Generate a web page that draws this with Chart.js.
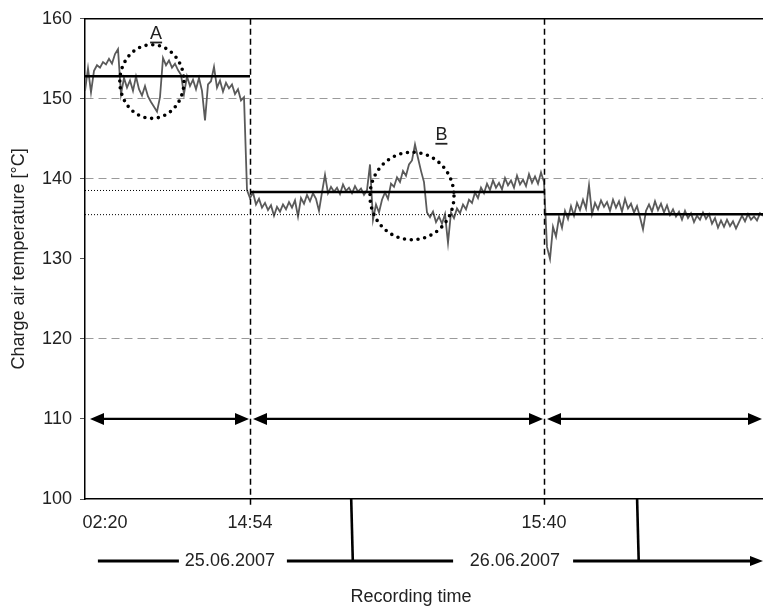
<!DOCTYPE html>
<html>
<head>
<meta charset="utf-8">
<script src="https://cdn.jsdelivr.net/npm/chart.js@4.4.1/dist/chart.umd.min.js"></script>
<style>
  html, body { margin: 0; padding: 0; background: #fff; }
  #wrap { width: 763px; height: 608px; }
</style>
</head>
<body>
<div id="wrap"><canvas id="chartTemp"></canvas></div>
<script>
// charge air temperature, one sample per step
const temperature = [
  151.0, 153.8, 150.8, 153.5, 154.2, 153.9, 154.6, 154.3, 155.0, 154.4,
  155.6, 156.2, 150.6, 152.6, 151.4, 152.3, 151.0, 152.8, 151.2, 150.4,
  151.6, 150.3, 149.6, 149.0, 148.4, 150.2, 155.1, 154.2, 154.8, 153.9,
  154.4, 153.6, 153.0, 150.6, 152.8, 151.6, 152.4, 151.2, 152.6, 151.0,
  147.3, 151.8, 152.2, 154.0, 151.4, 152.3, 150.9, 152.0, 151.3, 151.8,
  150.6, 151.2, 149.8, 150.2, 138.6, 137.6, 138.3, 136.8, 137.5, 136.4,
  137.0, 136.1, 136.7, 135.4, 136.5, 135.9, 136.8, 136.2, 137.1, 136.4,
  137.3, 135.3, 137.6, 136.9, 138.0, 137.2, 138.2, 137.5, 136.0, 138.3,
  140.5, 138.2, 139.0, 138.4, 138.9, 138.1, 139.3, 138.5, 138.9, 138.2,
  139.1, 138.4, 138.8, 138.0, 138.6, 141.8, 134.9, 136.8, 135.8, 137.4,
  138.3, 137.5, 139.4, 139.0, 140.2, 139.6, 141.0, 140.4, 141.8, 142.3,
  144.3, 142.6, 141.0, 139.6, 135.8, 135.2, 135.9, 134.6, 135.3, 134.4,
  135.6, 132.0, 135.8, 135.1, 136.3, 135.7, 136.8, 136.2, 137.4, 137.0,
  138.3, 137.6, 138.9, 138.2, 139.4, 138.6, 139.8, 138.9, 139.5, 138.7,
  140.1, 139.2, 139.8, 138.9, 140.4, 139.3, 139.9, 139.1, 140.6, 139.5,
  140.3, 139.4, 140.8, 139.6, 131.5, 130.0, 134.0, 132.8, 135.2, 133.9,
  136.0, 135.0, 136.6, 135.4, 137.0, 136.1, 137.4, 136.3, 139.2, 135.6,
  137.0, 136.2, 137.3, 136.5, 137.1, 136.0, 137.4, 136.4, 137.2, 135.9,
  137.5, 136.3, 136.9, 135.8, 136.6, 135.2, 133.7, 136.0, 136.8, 135.9,
  137.2, 136.1, 136.9, 135.8, 136.7, 135.5, 136.2, 135.3, 135.9, 134.9,
  136.0, 135.1, 135.7, 134.6, 135.4, 134.9, 135.8, 135.0, 135.6, 134.4,
  135.1, 133.9, 134.8, 134.0, 134.9, 134.1, 134.7, 133.8, 134.6, 135.4,
  134.7, 135.6, 134.9, 135.3, 134.8, 135.7, 135.4
];

// operating phases (sample index) and their mean temperature
const phaseStart = [0, 55, 153];
const phaseEnd = [55, 153, 226];
const phaseMean = [152.82, 138.36, 135.58];

// dotted reference levels, drawn from the y axis
const refLevel = [138.55, 135.53];
const refEnd = [55, 153];

const arrowLevel = 110;

// x axis labels
const timeTicks = [6.7, 55, 153];
const timeLabels = ['02:20', '14:54', '15:40'];
const dateLabels = ['25.06.2007', '26.06.2007'];
const datePos = [48.3, 143.3];
const dateLineFrom = [4.3, 67.3, 162.7];
const dateLineTo = [31.3, 122.7, 226];
const dayBreak = [89, 184.3];
const xTitle = 'Recording time';
const xTitlePos = 108.7;

// marked regions A and B
const regionLabel = ['A', 'B'];
const regionX = [22.3, 109];
const regionY = [152.16, 137.86];
const regionRx = [10.7, 14];
const regionRy = [4.6, 5.47];
const regionLabelX = [23.7, 118.8];
const regionLabelY = [158.1, 145.45];

const FONT = "'Liberation Sans', Arial, sans-serif";
const TEXT = '#222';

const meanSets = phaseMean.map((m, k) => ({
  data: [{x: phaseStart[k], y: m}, {x: phaseEnd[k], y: m}],
  borderColor: '#000',
  borderWidth: 2.6,
  pointRadius: 0,
  order: 1,
}));

const refSets = refLevel.map((r, k) => ({
  data: [{x: 0, y: r}, {x: refEnd[k], y: r}],
  borderColor: '#000',
  borderWidth: 1,
  borderDash: [1, 2],
  pointRadius: 0,
  order: 2,
}));

function arrowHead(ctx, x, y, dir, len, half) {
  ctx.beginPath();
  ctx.moveTo(x, y);
  ctx.lineTo(x - dir * len, y - half);
  ctx.lineTo(x - dir * len, y + half);
  ctx.closePath();
  ctx.fill();
}

const annotate = {
  id: 'annotate',
  afterDatasetsDraw(chart) {
    const {ctx, chartArea: a, scales: {x, y}} = chart;
    ctx.save();
    ctx.strokeStyle = '#000';
    ctx.fillStyle = '#000';

    // top frame line
    ctx.lineWidth = 1.5;
    ctx.beginPath();
    ctx.moveTo(a.left, a.top);
    ctx.lineTo(a.right, a.top);
    ctx.stroke();

    // phase boundaries
    ctx.setLineDash([6, 4]);
    ctx.lineWidth = 1.5;
    for (let k = 1; k < phaseStart.length; k++) {
      const px = Math.round(x.getPixelForValue(phaseStart[k])) + 0.5;
      ctx.beginPath();
      ctx.moveTo(px, a.top);
      ctx.lineTo(px, a.bottom + 9);
      ctx.stroke();
    }
    ctx.setLineDash([]);

    // phase arrows
    const ay = y.getPixelForValue(arrowLevel);
    ctx.lineWidth = 2.2;
    for (let k = 0; k < phaseStart.length; k++) {
      const x1 = x.getPixelForValue(phaseStart[k]) + (k === 0 ? 5 : 3);
      const x2 = Math.min(x.getPixelForValue(phaseEnd[k]) - 1, a.right);
      ctx.beginPath();
      ctx.moveTo(x1 + 6, ay);
      ctx.lineTo(x2 - 6, ay);
      ctx.stroke();
      arrowHead(ctx, x1, ay, -1, 14, 6);
      arrowHead(ctx, x2, ay, 1, 14, 6);
    }

    // dotted ellipses
    ctx.lineWidth = 3.6;
    ctx.lineCap = 'round';
    ctx.setLineDash([0, 6.8]);
    for (let k = 0; k < regionX.length; k++) {
      const cx = x.getPixelForValue(regionX[k]);
      const cy = y.getPixelForValue(regionY[k]);
      const rx = x.getPixelForValue(regionX[k] + regionRx[k]) - cx;
      const ry = cy - y.getPixelForValue(regionY[k] + regionRy[k]);
      ctx.beginPath();
      ctx.ellipse(cx, cy, rx, ry, 0, 0, Math.PI * 2);
      ctx.stroke();
    }
    ctx.setLineDash([]);
    ctx.lineCap = 'butt';

    // region letters, underlined
    ctx.font = '18px ' + FONT;
    ctx.fillStyle = TEXT;
    ctx.textAlign = 'center';
    ctx.textBaseline = 'middle';
    ctx.lineWidth = 1.8;
    ctx.strokeStyle = TEXT;
    for (let k = 0; k < regionLabel.length; k++) {
      const lx = x.getPixelForValue(regionLabelX[k]);
      const ly = y.getPixelForValue(regionLabelY[k]);
      ctx.fillText(regionLabel[k], lx, ly);
      const w = ctx.measureText(regionLabel[k]).width;
      ctx.beginPath();
      ctx.moveTo(lx - w / 2, ly + 8.5);
      ctx.lineTo(lx + w / 2, ly + 8.5);
      ctx.stroke();
    }

    // date row below the axis
    const dy = x.top + 62;
    ctx.strokeStyle = '#000';
    ctx.fillStyle = '#000';
    ctx.lineWidth = 3;
    for (let k = 0; k < dateLineFrom.length; k++) {
      const x1 = x.getPixelForValue(dateLineFrom[k]);
      const x2 = x.getPixelForValue(dateLineTo[k]);
      const last = k === dateLineFrom.length - 1;
      ctx.beginPath();
      ctx.moveTo(x1, dy);
      ctx.lineTo(last ? x2 - 8 : x2, dy);
      ctx.stroke();
      if (last) arrowHead(ctx, x2, dy, 1, 13, 5);
    }
    ctx.lineWidth = 2.6;
    for (const b of dayBreak) {
      const bx = x.getPixelForValue(b);
      ctx.beginPath();
      ctx.moveTo(bx - 0.8, x.top);
      ctx.lineTo(bx + 0.8, dy);
      ctx.stroke();
    }
    ctx.fillStyle = TEXT;
    for (let k = 0; k < dateLabels.length; k++) {
      ctx.fillText(dateLabels[k], x.getPixelForValue(datePos[k]), dy);
    }
    ctx.fillText(xTitle, x.getPixelForValue(xTitlePos), x.top + 98);

    ctx.restore();
  }
};

new Chart(document.getElementById('chartTemp'), {
  type: 'line',
  data: {
    datasets: [
      ...meanSets,
      ...refSets,
      {
        data: temperature.map((v, i) => ({x: i, y: v})),
        borderColor: '#5a5a5a',
        borderWidth: 1.8,
        pointRadius: 0,
        tension: 0,
        order: 3,
      },
    ],
  },
  options: {
    responsive: true,
    maintainAspectRatio: false,
    animation: false,
    events: [],
    layout: {padding: {top: 16, right: 0, bottom: 0, left: 0}},
    plugins: {
      legend: {display: false},
      tooltip: {enabled: false},
    },
    scales: {
      x: {
        type: 'linear',
        min: 0,
        max: 226,
        afterFit: (scale) => { scale.height = 109; },
        afterBuildTicks: (scale) => {
          scale.ticks = timeTicks.map(v => ({value: v}));
        },
        grid: {display: false, drawTicks: false},
        border: {display: true, color: '#000', width: 1.5},
        ticks: {
          autoSkip: false,
          maxRotation: 0,
          padding: 13,
          color: TEXT,
          font: {family: FONT, size: 18},
          callback: (v, i) => timeLabels[i],
        },
      },
      y: {
        min: 100,
        max: 160,
        afterFit: (scale) => { scale.width = 85; },
        grid: {
          color: (c) => [120, 140, 150].includes(c.tick && c.tick.value) ? '#9a9a9a' : 'rgba(0,0,0,0)',
          lineWidth: 1,
          tickLength: 5,
          tickColor: '#555',
          tickBorderDash: [],
        },
        border: {display: true, color: '#000', width: 1.5, dash: [8, 5]},
        ticks: {
          stepSize: 10,
          padding: 8,
          color: TEXT,
          font: {family: FONT, size: 18},
        },
        title: {
          display: true,
          text: 'Charge air temperature [°C]',
          color: TEXT,
          font: {family: FONT, size: 18},
          padding: {top: 8, bottom: 0},
        },
      },
    },
  },
  plugins: [annotate],
});
</script>
</body>
</html>
